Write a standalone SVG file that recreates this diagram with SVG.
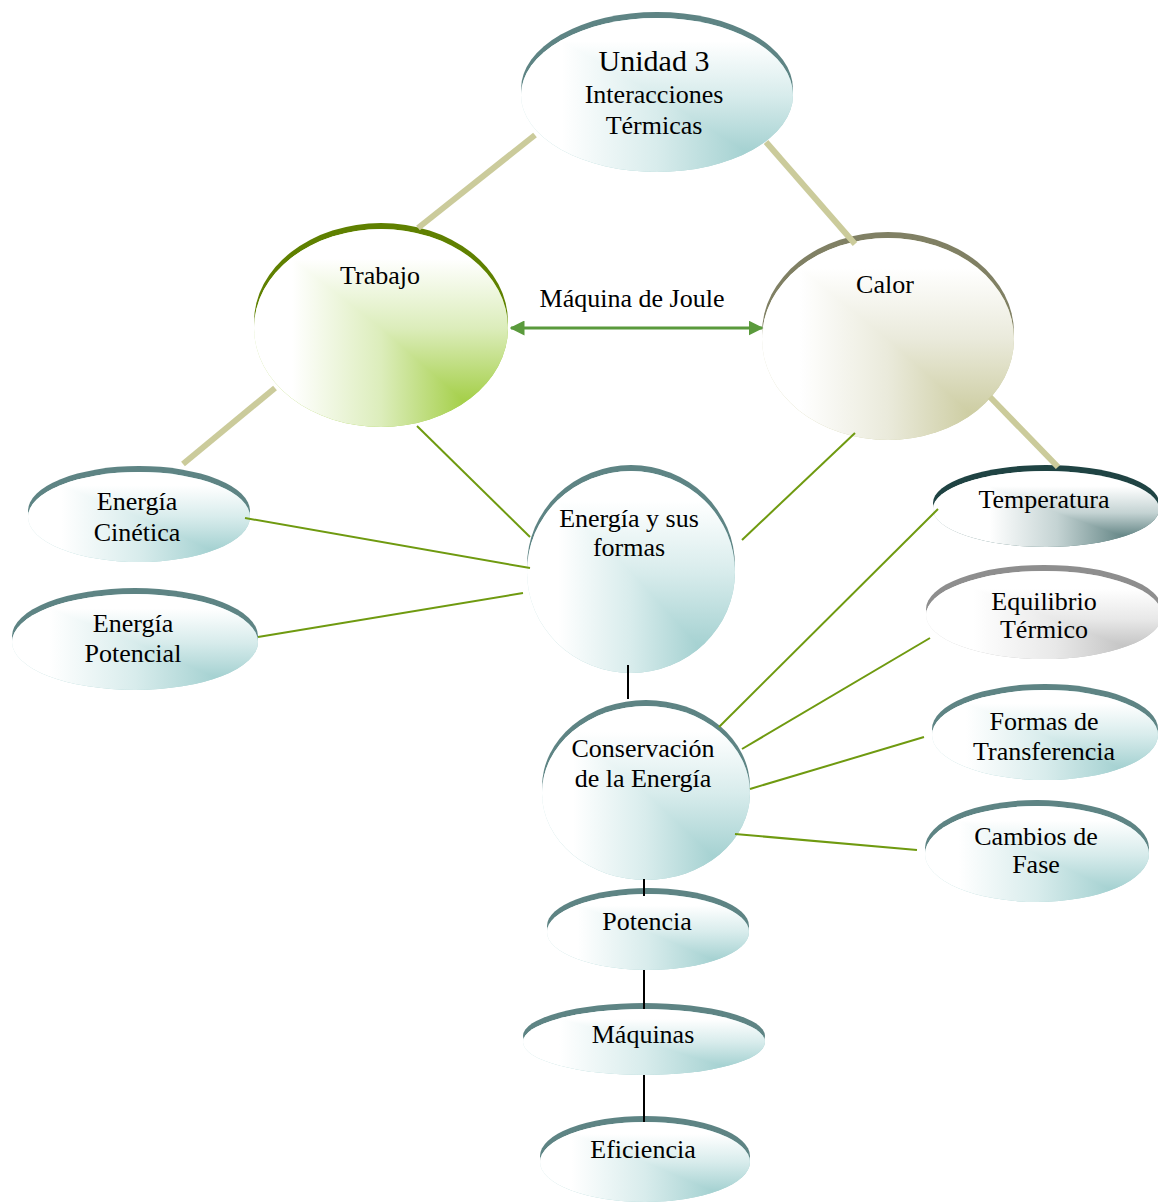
<svg xmlns="http://www.w3.org/2000/svg" width="1158" height="1203" viewBox="0 0 1158 1203">
  <defs>
    <!-- corner shading: a left-to-right and a top-to-bottom ramp, the lighter of the two wins -->
    <linearGradient id="hTeal" x1="0" y1="0" x2="1" y2="0">
      <stop offset="0.15" stop-color="#ffffff"/>
      <stop offset="0.5" stop-color="#d8ecec"/>
      <stop offset="0.82" stop-color="#a6d2d2"/>
    </linearGradient>
    <linearGradient id="vTeal" x1="0" y1="0" x2="0" y2="1">
      <stop offset="0.15" stop-color="#ffffff"/>
      <stop offset="0.5" stop-color="#d8ecec"/>
      <stop offset="0.86" stop-color="#a6d2d2"/>
    </linearGradient>
    <linearGradient id="hGreen" x1="0" y1="0" x2="1" y2="0">
      <stop offset="0.15" stop-color="#ffffff"/>
      <stop offset="0.5" stop-color="#dcedbb"/>
      <stop offset="0.82" stop-color="#a6d04c"/>
    </linearGradient>
    <linearGradient id="vGreen" x1="0" y1="0" x2="0" y2="1">
      <stop offset="0.15" stop-color="#ffffff"/>
      <stop offset="0.5" stop-color="#dcedbb"/>
      <stop offset="0.86" stop-color="#a6d04c"/>
    </linearGradient>
    <linearGradient id="hKhaki" x1="0" y1="0" x2="1" y2="0">
      <stop offset="0.15" stop-color="#ffffff"/>
      <stop offset="0.5" stop-color="#eaeadb"/>
      <stop offset="0.82" stop-color="#cecea4"/>
    </linearGradient>
    <linearGradient id="vKhaki" x1="0" y1="0" x2="0" y2="1">
      <stop offset="0.15" stop-color="#ffffff"/>
      <stop offset="0.5" stop-color="#eaeadb"/>
      <stop offset="0.86" stop-color="#cecea4"/>
    </linearGradient>
    <linearGradient id="hSlate" x1="0" y1="0" x2="1" y2="0">
      <stop offset="0.25" stop-color="#ffffff"/>
      <stop offset="0.55" stop-color="#c4d3d3"/>
      <stop offset="0.9" stop-color="#537878"/>
    </linearGradient>
    <linearGradient id="vSlate" x1="0" y1="0" x2="0" y2="1">
      <stop offset="0.2" stop-color="#ffffff"/>
      <stop offset="0.55" stop-color="#c4d3d3"/>
      <stop offset="0.92" stop-color="#537878"/>
    </linearGradient>
    <linearGradient id="hGray" x1="0" y1="0" x2="1" y2="0">
      <stop offset="0.2" stop-color="#ffffff"/>
      <stop offset="0.55" stop-color="#e8e8e8"/>
      <stop offset="0.9" stop-color="#bdbdbd"/>
    </linearGradient>
    <linearGradient id="vGray" x1="0" y1="0" x2="0" y2="1">
      <stop offset="0.2" stop-color="#ffffff"/>
      <stop offset="0.55" stop-color="#e8e8e8"/>
      <stop offset="0.92" stop-color="#bdbdbd"/>
    </linearGradient>
    <marker id="arrowHead" viewBox="0 0 10 10" refX="9" refY="5" markerWidth="5" markerHeight="5" orient="auto-start-reverse" markerUnits="strokeWidth">
      <path d="M0,0 L10,5 L0,10 Z" fill="#5a9a3c"/>
    </marker>
  </defs>
  <style>
    text { font-family: "Liberation Serif", "Times New Roman", serif; font-size: 26px; text-anchor: middle; fill: #000; }
    .big { font-size: 30px; }
    .shade { isolation: isolate; }
    .lt { mix-blend-mode: lighten; }
    .rimTeal { fill: #5e8484; }
    .rimGreen { fill: #5f8000; }
    .rimKhaki { fill: #808064; }
    .rimSlate { fill: #1f4343; }
    .rimGray { fill: #8e8e8e; }
    .thick { stroke: #cbcb9b; stroke-width: 6; fill: none; }
    .thin { stroke: #6f9a10; stroke-width: 2; fill: none; }
    .plain { stroke: #000; stroke-width: 2; fill: none; }
    .joule { stroke: #5a9a3c; stroke-width: 3; fill: none; }
  </style>

  <rect width="1158" height="1203" fill="#ffffff"/>

  <!-- nodes: a darker copy shifted up forms the rim, the shaded ellipse sits on it -->
  <g id="n-unidad">
    <ellipse class="rimTeal" cx="657" cy="89" rx="136" ry="77"/>
    <g class="shade">
      <ellipse fill="url(#hTeal)" cx="657" cy="95" rx="136" ry="77"/>
      <ellipse class="lt" fill="url(#vTeal)" cx="657" cy="95" rx="136" ry="77"/>
    </g>
    <text class="big" x="654" y="71">Unidad 3</text>
    <text x="654" y="103">Interacciones</text>
    <text x="654" y="134">Térmicas</text>
  </g>

  <g id="n-trabajo">
    <ellipse class="rimGreen" cx="381" cy="322" rx="127" ry="99"/>
    <g class="shade">
      <ellipse fill="url(#hGreen)" cx="381" cy="328" rx="127" ry="99"/>
      <ellipse class="lt" fill="url(#vGreen)" cx="381" cy="328" rx="127" ry="99"/>
    </g>
    <text x="380" y="284">Trabajo</text>
  </g>

  <g id="n-calor">
    <ellipse class="rimKhaki" cx="888" cy="333" rx="126" ry="101"/>
    <g class="shade">
      <ellipse fill="url(#hKhaki)" cx="888" cy="339" rx="126" ry="101"/>
      <ellipse class="lt" fill="url(#vKhaki)" cx="888" cy="339" rx="126" ry="101"/>
    </g>
    <text x="885" y="293">Calor</text>
  </g>

  <g id="n-cinetica">
    <ellipse class="rimTeal" cx="139" cy="511" rx="111" ry="45"/>
    <g class="shade">
      <ellipse fill="url(#hTeal)" cx="139" cy="517" rx="111" ry="45"/>
      <ellipse class="lt" fill="url(#vTeal)" cx="139" cy="517" rx="111" ry="45"/>
    </g>
    <text x="137" y="510">Energía</text>
    <text x="137" y="541">Cinética</text>
  </g>

  <g id="n-potencial">
    <ellipse class="rimTeal" cx="135" cy="636" rx="123" ry="48"/>
    <g class="shade">
      <ellipse fill="url(#hTeal)" cx="135" cy="642" rx="123" ry="48"/>
      <ellipse class="lt" fill="url(#vTeal)" cx="135" cy="642" rx="123" ry="48"/>
    </g>
    <text x="133" y="632">Energía</text>
    <text x="133" y="662">Potencial</text>
  </g>

  <g id="n-energia">
    <ellipse class="rimTeal" cx="631" cy="566" rx="104" ry="101"/>
    <g class="shade">
      <ellipse fill="url(#hTeal)" cx="631" cy="572" rx="104" ry="101"/>
      <ellipse class="lt" fill="url(#vTeal)" cx="631" cy="572" rx="104" ry="101"/>
    </g>
    <text x="629" y="527">Energía y sus</text>
    <text x="629" y="556">formas</text>
  </g>

  <g id="n-temperatura">
    <ellipse class="rimSlate" cx="1046" cy="503" rx="113" ry="38"/>
    <g class="shade">
      <ellipse fill="url(#hSlate)" cx="1046" cy="509" rx="113" ry="38"/>
      <ellipse class="lt" fill="url(#vSlate)" cx="1046" cy="509" rx="113" ry="38"/>
    </g>
    <text x="1044" y="508">Temperatura</text>
  </g>

  <g id="n-equilibrio">
    <ellipse class="rimGray" cx="1044" cy="609" rx="118" ry="44"/>
    <g class="shade">
      <ellipse fill="url(#hGray)" cx="1044" cy="615" rx="118" ry="44"/>
      <ellipse class="lt" fill="url(#vGray)" cx="1044" cy="615" rx="118" ry="44"/>
    </g>
    <text x="1044" y="610">Equilibrio</text>
    <text x="1044" y="638">Térmico</text>
  </g>

  <g id="n-transferencia">
    <ellipse class="rimTeal" cx="1045" cy="729" rx="113" ry="45"/>
    <g class="shade">
      <ellipse fill="url(#hTeal)" cx="1045" cy="735" rx="113" ry="45"/>
      <ellipse class="lt" fill="url(#vTeal)" cx="1045" cy="735" rx="113" ry="45"/>
    </g>
    <text x="1044" y="730">Formas de</text>
    <text x="1044" y="760">Transferencia</text>
  </g>

  <g id="n-fase">
    <ellipse class="rimTeal" cx="1037" cy="848" rx="112" ry="48"/>
    <g class="shade">
      <ellipse fill="url(#hTeal)" cx="1037" cy="854" rx="112" ry="48"/>
      <ellipse class="lt" fill="url(#vTeal)" cx="1037" cy="854" rx="112" ry="48"/>
    </g>
    <text x="1036" y="845">Cambios de</text>
    <text x="1036" y="873">Fase</text>
  </g>

  <g id="n-conservacion">
    <ellipse class="rimTeal" cx="646" cy="787" rx="104" ry="87"/>
    <g class="shade">
      <ellipse fill="url(#hTeal)" cx="646" cy="793" rx="104" ry="87"/>
      <ellipse class="lt" fill="url(#vTeal)" cx="646" cy="793" rx="104" ry="87"/>
    </g>
    <text x="643" y="757">Conservación</text>
    <text x="643" y="787">de la Energía</text>
  </g>

  <g id="n-potencia">
    <ellipse class="rimTeal" cx="648" cy="926" rx="101" ry="38"/>
    <g class="shade">
      <ellipse fill="url(#hTeal)" cx="648" cy="932" rx="101" ry="38"/>
      <ellipse class="lt" fill="url(#vTeal)" cx="648" cy="932" rx="101" ry="38"/>
    </g>
    <text x="647" y="930">Potencia</text>
  </g>

  <g id="n-maquinas">
    <ellipse class="rimTeal" cx="644" cy="1036" rx="121" ry="33"/>
    <g class="shade">
      <ellipse fill="url(#hTeal)" cx="644" cy="1042" rx="121" ry="33"/>
      <ellipse class="lt" fill="url(#vTeal)" cx="644" cy="1042" rx="121" ry="33"/>
    </g>
    <text x="643" y="1043">Máquinas</text>
  </g>

  <g id="n-eficiencia">
    <ellipse class="rimTeal" cx="645" cy="1156" rx="105" ry="40"/>
    <g class="shade">
      <ellipse fill="url(#hTeal)" cx="645" cy="1162" rx="105" ry="40"/>
      <ellipse class="lt" fill="url(#vTeal)" cx="645" cy="1162" rx="105" ry="40"/>
    </g>
    <text x="643" y="1158">Eficiencia</text>
  </g>

  <!-- connectors -->
  <g id="connectors">
    <line class="thick" x1="535" y1="135" x2="418" y2="228"/>
    <line class="thick" x1="766" y1="142" x2="855" y2="244"/>
    <line class="thick" x1="275" y1="388" x2="183" y2="464"/>
    <line class="thick" x1="990" y1="397" x2="1058" y2="467"/>

    <line class="thin" x1="417" y1="426" x2="530" y2="537"/>
    <line class="thin" x1="855" y1="433" x2="742" y2="540"/>
    <line class="thin" x1="245" y1="518" x2="530" y2="568"/>
    <line class="thin" x1="258" y1="637" x2="523" y2="593"/>
    <line class="thin" x1="938" y1="509" x2="719" y2="727"/>
    <line class="thin" x1="930" y1="638" x2="742" y2="749"/>
    <line class="thin" x1="924" y1="737" x2="750" y2="789"/>
    <line class="thin" x1="917" y1="850" x2="735" y2="834"/>

    <line class="plain" x1="628" y1="665" x2="628" y2="699"/>
    <line class="plain" x1="644" y1="879" x2="644" y2="896"/>
    <line class="plain" x1="644" y1="970" x2="644" y2="1009"/>
    <line class="plain" x1="644" y1="1075" x2="644" y2="1122"/>

    <line class="joule" x1="511" y1="328" x2="762" y2="328" marker-start="url(#arrowHead)" marker-end="url(#arrowHead)"/>
    <text x="632" y="307">Máquina de Joule</text>
  </g>
</svg>
